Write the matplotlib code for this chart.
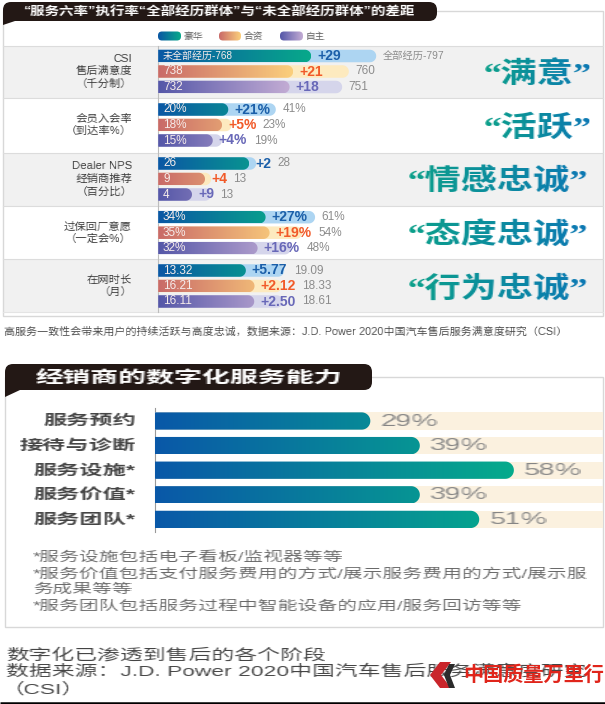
#!/usr/bin/env python

import numpy as np
import matplotlib
matplotlib.use("Agg")
import matplotlib.pyplot as plt
from matplotlib.colors import LinearSegmentedColormap, to_rgb
from matplotlib.patches import FancyBboxPatch, PathPatch, Polygon, Rectangle
from matplotlib.path import Path

W, H = 605, 704
SANS = ["Liberation Sans", "Noto Sans CJK SC"]
SERIF = ["Liberation Serif", "Noto Sans CJK SC"]

# top panel data
SERIES = ["豪华", "合资", "自主"]
GROUP_LABELS = [
    "CSI\n售后满意度\n（千分制）",
    "会员入会率\n（到达率%）",
    "Dealer NPS\n经销商推荐\n（百分比）",
    "过保回厂意愿\n（一定会%）",
    "在网时长\n（月）",
]
SLOGANS = ["“满意”", "“活跃”", "“情感忠诚”", "“态度忠诚”", "“行为忠诚”"]
BASE_VALUES = [
    [768, 738, 732],
    [20, 18, 15],
    [26, 9, 4],
    [34, 35, 32],
    [13.32, 16.21, 16.11],
]
TOTAL_VALUES = [
    [797, 760, 751],
    [41, 23, 19],
    [28, 13, 13],
    [61, 54, 48],
    [19.09, 18.33, 18.61],
]
BASE_TEXT = [
    ["未全部经历-768", "738", "732"],
    ["20%", "18%", "15%"],
    ["26", "9", "4"],
    ["34%", "35%", "32%"],
    ["13.32", "16.21", "16.11"],
]
DELTA_TEXT = [
    ["+29", "+21", "+18"],
    ["+21%", "+5%", "+4%"],
    ["+2", "+4", "+9"],
    ["+27%", "+19%", "+16%"],
    ["+5.77", "+2.12", "+2.50"],
]
TOTAL_TEXT = [
    ["全部经历-797", "760", "751"],
    ["41%", "23%", "19%"],
    ["28", "13", "13"],
    ["61%", "54%", "48%"],
    ["19.09", "18.33", "18.61"],
]

# each group has a cut axis for the inner bars and one for the outer bars
BASE_SCALE = [(513, 0.6), (-2.6, 3.1), (-9, 2.6), (7.15, 4.0), (-15.9, 3.0)]
TOTAL_SCALE = [(502.4, 0.74), (-7, 2.45), (-4.67, 3.0), (-23.8, 1.85), (-22.9, 3.0)]

# lower panel data
SERVICE_LABELS = ["服务预约", "接待与诊断", "服务设施*", "服务价值*", "服务团队*"]
SERVICE_VALUES = [29, 39, 58, 39, 51]
SERVICE_SCALE = (-14.5, 4.95)

TOP_TITLE = "“服务六率”执行率“全部经历群体”与“未全部经历群体”的差距"
TOP_NOTE = "高服务一致性会带来用户的持续活跃与高度忠诚，数据来源：J.D. Power 2020中国汽车售后服务满意度研究（CSI）"
LOW_TITLE = "经销商的数字化服务能力"
FOOTNOTES = [
    "*服务设施包括电子看板/监视器等等",
    "*服务价值包括支付服务费用的方式/展示服务费用的方式/展示服",
    "务成果等等",
    "*服务团队包括服务过程中智能设备的应用/服务回访等等",
]
BOTTOM_LINES = [
    "数字化已渗透到售后的各个阶段",
    "数据来源：J.D. Power 2020中国汽车售后服务满意度研究",
    "（CSI）",
]
WATERMARK = "中国质量万里行"

GRADIENTS = [("#0b57a4", "#07a98a"), ("#c96a68", "#fbcf7c"), ("#5557a8", "#c3acd4")]
TRACKS = ["#add5f2", "#fdeabf", "#d5d5eb"]
DELTA_COLORS = ["#1b5fa9", "#f15a29", "#6868b8"]
DARK = "#231815"


def text_filter(fx=1.0, anchor="left", colors=None):
    """The scan is wider than tall, so text gets stretched sideways."""

    def apply(img, dpi):
        h, w = img.shape[:2]
        new_w = max(1, int(round(w * fx)))
        xs = np.clip((np.arange(new_w) + 0.5) / fx - 0.5, 0, w - 1)
        left = np.minimum(xs.astype(int), max(w - 2, 0))
        right = np.minimum(left + 1, w - 1)
        frac = (xs - left)[None, :, None]
        out = img[:, left] * (1 - frac) + img[:, right] * frac
        if colors is not None:
            c0, c1 = np.array(to_rgb(colors[0])), np.array(to_rgb(colors[1]))
            t = np.linspace(0, 1, new_w)[None, :, None]
            out[..., :3] = c0 * (1 - t) + c1 * t
        ox = {"left": 0, "right": w - new_w, "center": (w - new_w) // 2}[anchor]
        return out, ox, 0

    return apply


def label(ax, x, y, s, size, color, ha="left", fx=1.0, weight="normal",
          family=SANS, colors=None, linespacing=1.2):
    txt = ax.text(x, y, s, fontsize=size, color=color, ha=ha, va="center",
                  fontweight=weight, family=family, linespacing=linespacing,
                  multialignment=ha)
    if fx != 1.0 or colors is not None:
        txt.set_agg_filter(text_filter(fx, ha, colors))
    return txt


def px_axes(fig, x0, y0, x1, y1):
    ax = fig.add_axes([x0 / W, 1 - y1 / H, (x1 - x0) / W, (y1 - y0) / H])
    ax.axis("off")
    return ax


def bar_path(x0, x1, row, height, rx):
    # square at the baseline, round at the value end
    top, bottom = row - height / 2, row + height / 2
    rx = min(rx, x1 - x0)
    theta = np.linspace(-np.pi / 2, np.pi / 2, 24)
    xs = x1 - rx + rx * np.cos(theta)
    ys = row + height / 2 * np.sin(theta)
    verts = [(x0, top)] + list(zip(xs, ys)) + [(x0, bottom), (x0, top)]
    return Path(verts, closed=True)


def gradient_bar(ax, x0, value, row, height, rx, colors, t_end):
    cmap = LinearSegmentedColormap.from_list("bar", colors)
    grad = cmap(np.linspace(0, t_end, 256))[None, :, :]
    clip = PathPatch(bar_path(x0, value, row, height, rx), fc="none", ec="none")
    ax.add_patch(clip)
    im = ax.imshow(grad, extent=(x0, value, row + height / 2, row - height / 2),
                   aspect="auto", interpolation="bilinear", zorder=2)
    im.set_clip_path(clip)


def header(ax, x0, x1, y0, y1, flag_x, flag_y):
    ax.add_patch(Polygon([(x0, y0 + 8), (x0, flag_y), (flag_x, y1)], fc=DARK, ec="none", zorder=3))
    ax.add_patch(FancyBboxPatch((x0, y0), x1 - x0, y1 - y0,
                                boxstyle="round,pad=0,rounding_size=8",
                                fc=DARK, ec="none", zorder=3))


def draw_group(fig, fg, renderer, g, center):
    pitch = 15.5
    x0, x1 = 158.2, 600
    span = x1 - x0
    y0, y1 = center - 1.5 * pitch, center + 1.5 * pitch
    height = 12.5 / pitch
    r_px = 6.25

    lo, ppu = TOTAL_SCALE[g]
    outer = px_axes(fig, x0, y0, x1, y1)
    for row, value in enumerate(TOTAL_VALUES[g]):
        outer.add_patch(PathPatch(bar_path(lo, value, row, height, r_px / ppu),
                                  fc=TRACKS[row], ec="none"))
    outer.set_xlim(lo, lo + span / ppu)
    outer.set_ylim(2.5, -0.5)

    lo, ppu = BASE_SCALE[g]
    inner = px_axes(fig, x0, y0, x1, y1)
    for row, value in enumerate(BASE_VALUES[g]):
        width = (value - lo) * ppu
        gradient_bar(inner, lo, value, row, height, r_px / ppu,
                     GRADIENTS[row], min(1.0, width / 125))
    inner.set_xlim(lo, lo + span / ppu)
    inner.set_ylim(2.5, -0.5)

    for row in range(3):
        y = center + (row - 1) * pitch
        base_end = x0 + (BASE_VALUES[g][row] - BASE_SCALE[g][0]) * BASE_SCALE[g][1]
        total_end = x0 + (TOTAL_VALUES[g][row] - TOTAL_SCALE[g][0]) * TOTAL_SCALE[g][1]
        size = 7.2 if g == 0 and row == 0 else 8.5
        label(fg, 163, y, BASE_TEXT[g][row], size, "#f6ecea")
        delta = label(fg, base_end + 6, y, DELTA_TEXT[g][row], 10, DELTA_COLORS[row], weight="bold")
        delta_end = fg.transData.inverted().transform(delta.get_window_extent(renderer))[1][0]
        size = 7.4 if g == 0 and row == 0 else 8.5
        label(fg, max(total_end, delta_end) + 6.5, y, TOTAL_TEXT[g][row], size, "#8c8c8c")


def main():
    fig = plt.figure(figsize=(W / 100, H / 100), dpi=100)
    renderer = fig.canvas.get_renderer()
    bg = fig.add_axes([0, 0, 1, 1], zorder=-1)
    fg = fig.add_axes([0, 0, 1, 1], zorder=5)
    for ax in (bg, fg):
        ax.set_xlim(0, W)
        ax.set_ylim(H, 0)
        ax.axis("off")

    # top panel frame and bands
    bands = [(46, 98, True), (98, 152.5, False), (152.5, 206, True), (206, 259, False), (259, 312, True)]
    for top, bottom, grey in bands:
        if grey:
            bg.add_patch(Rectangle((3, top), 600, bottom - top, fc="#f1f1f1", ec="none"))
        bg.plot([3, 603], [top, top], color="#dcdcdc", lw=0.8)
    bg.plot([3, 603], [312, 312], color="#e4e4e4", lw=0.8)
    bg.add_patch(Rectangle((3, 11), 600, 305, fc="none", ec="#d8d8d8", lw=1))
    bg.plot([158, 158], [46, 312], color="#bdbdbd", lw=0.8, zorder=2)
    header(bg, 3, 437, 2, 21, 15, 25)
    label(fg, 23, 11.5, TOP_TITLE, 8.6, "white", weight="bold", fx=1.22)

    # legend
    swatches = [(158, 181, 183), (219, 241, 244), (280, 303, 306)]
    for name, colors, (a, b, tx) in zip(SERIES, GRADIENTS, swatches):
        clip = FancyBboxPatch((a + 4, 31.5 + 4), b - a - 8, 1,
                              boxstyle="round,pad=4", fc="none", ec="none")
        bg.add_patch(clip)
        cmap = LinearSegmentedColormap.from_list("sw", colors)
        im = bg.imshow(cmap(np.linspace(0, 1, 64))[None, :, :], extent=(a, b, 41, 31),
                       aspect="auto")
        im.set_clip_path(clip)
        label(fg, tx, 36, name, 6.4, "#555555", fx=1.1)
    bg.set_xlim(0, W)
    bg.set_ylim(H, 0)

    centers = [71.5, 125, 179, 232.7, 286]
    for g, center in enumerate(centers):
        label(fg, 132, center, GROUP_LABELS[g], 7.6, "#333333", ha="right", fx=1.08, linespacing=1.3)
        draw_group(fig, fg, renderer, g, center)
        label(fg, 591 if g < 2 else 588, center + 3, SLOGANS[g], 20.5, "#0b8fa0", ha="right",
              fx=1.27, weight="bold", family=SERIF, colors=("#0ba08a", "#0c78b4"))

    label(fg, 4, 331.7, TOP_NOTE, 7.3, "#444444", fx=1.09)

    # lower panel
    bg.add_patch(Rectangle((5, 377), 598, 250, fc="none", ec="#d8d8d8", lw=1))
    header(bg, 5, 372, 364, 390, 20, 397)
    label(fg, 36, 378, LOW_TITLE, 12, "white", weight="bold", fx=1.68)

    pitch = 24.6
    ax = px_axes(fig, 155, 421 - pitch / 2, 603, 519.4 + pitch / 2)
    lo, ppu = SERVICE_SCALE
    hi = lo + 448 / ppu
    height = 17.3 / pitch
    for row, value in enumerate(SERVICE_VALUES):
        ax.axhspan(row - height / 2, row + height / 2, fc="#fbf1df", ec="none", zorder=1)
        gradient_bar(ax, lo, value, row, height, 8.65 / ppu,
                     ("#0a58a8", "#05ab8c"), (value - lo) * ppu / 359)
        ax.annotate("%d%%" % value, (value, row), xytext=(10, 0), textcoords="offset pixels",
                    va="center", ha="left", fontsize=11.5, color="#858585", family=SANS,
                    agg_filter=text_filter(1.35), zorder=3)
        label(fg, 136, 421 + row * pitch, SERVICE_LABELS[row], 10.5, "#444444", ha="right",
              fx=1.6, weight="bold")
    ax.set_xlim(lo, hi)
    ax.set_ylim(4.5, -0.5)
    bg.plot([155, 155], [408, 532], color="#999999", lw=0.8)

    for y, line in zip([556.7, 574.3, 589.3, 606], FOOTNOTES):
        label(fg, 33, y, line, 9.5, "#666666", fx=1.5)

    for (x, y), line in zip([(6, 655), (6, 671.7), (6, 689)], BOTTOM_LINES):
        label(fg, x, y, line, 11, "#444444", fx=1.5)

    # watermark
    fg.add_patch(Polygon([(440, 662), (451, 662), (441, 675), (451, 688), (440, 688), (430, 675)],
                         fc="#c9252b", ec="none", zorder=7))
    fg.add_patch(Polygon([(449, 664), (455, 664), (450, 675), (455, 688), (449, 688), (444, 675)],
                         fc="#2b2b2b", ec="none", zorder=7))
    label(fg, 463, 675, WATERMARK, 14.5, "#e0251b", weight="bold").set_zorder(7)

    bg.plot([0, W], [703, 703], color="black", lw=1.8, solid_capstyle="butt")

    fig.savefig("out.png", dpi=100)


if __name__ == "__main__":
    main()
